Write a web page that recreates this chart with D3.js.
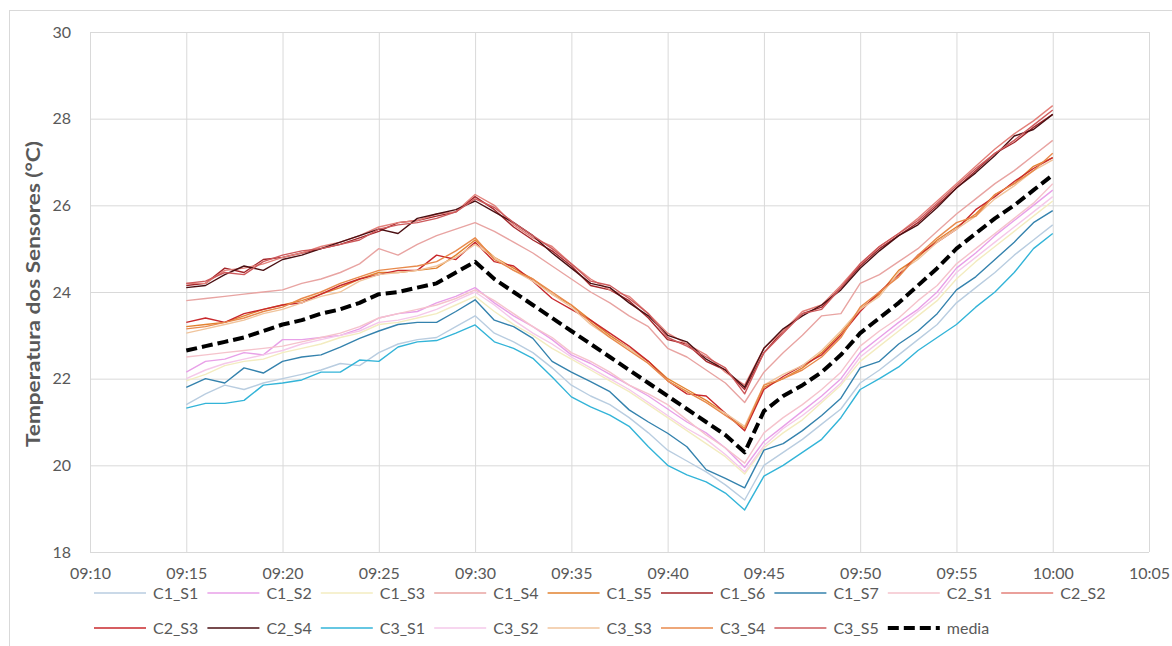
<!DOCTYPE html>
<html>
<head>
<meta charset="utf-8">
<script src="https://cdn.jsdelivr.net/npm/d3@7"></script>
<style>
  body { margin: 0; background: #fff; }
  text { font-family: Lato, "Open Sans", sans-serif; fill: #595959; }
</style>
</head>
<body>
<div id="main"></div>
<script>
// one reading per minute, 09:15 .. 10:00
const startTime = '09:15';
const yTicks = [18, 20, 22, 24, 26, 28, 30];

const C1_S1 = [21.4,21.65,21.85,21.75,21.9,22.0,22.1,22.2,22.35,22.3,22.6,22.8,22.9,22.95,23.2,23.45, 23.05,22.85,22.6,22.25,21.85,21.6,21.4,21.1,20.75,20.35,20.1,19.85,19.55,19.2, 20.0,20.3,20.6,20.95,21.3,21.9,22.2,22.55,22.9,23.25,23.75,24.1,24.45,24.85,25.2,25.55];
const C1_S2 = [22.15,22.4,22.45,22.6,22.55,22.9,22.9,22.95,23.0,23.15,23.4,23.5,23.55,23.75,23.9,24.1, 23.75,23.45,23.2,22.9,22.55,22.35,22.1,21.85,21.6,21.3,21.0,20.75,20.4,19.95, 20.55,20.9,21.25,21.6,22.0,22.6,22.95,23.3,23.6,24.0,24.55,24.9,25.3,25.65,26.0,26.35];
const C1_S3 = [21.95,22.1,22.3,22.4,22.45,22.6,22.7,22.8,22.95,23.05,23.25,23.3,23.4,23.5,23.7,23.9, 23.55,23.25,23.0,22.7,22.45,22.2,21.95,21.7,21.4,21.1,20.8,20.5,20.2,19.8, 20.4,20.75,21.05,21.45,21.85,22.4,22.75,23.1,23.45,23.8,24.3,24.7,25.05,25.4,25.75,26.1];
const C1_S4 = [23.8,23.85,23.9,23.95,24.0,24.05,24.2,24.3,24.45,24.65,25.0,24.85,25.1,25.3,25.45,25.6, 25.4,25.15,24.9,24.6,24.3,24.0,23.75,23.45,23.2,22.7,22.5,22.2,21.9,21.45, 22.15,22.6,23.0,23.45,23.5,24.2,24.4,24.7,25.0,25.4,25.8,26.15,26.5,26.8,27.15,27.5];
const C1_S5 = [23.2,23.25,23.3,23.45,23.6,23.7,23.8,23.95,24.1,24.3,24.45,24.45,24.5,24.55,24.85,25.2, 24.8,24.55,24.3,23.95,23.7,23.35,23.0,22.7,22.4,22.0,21.75,21.5,21.2,20.85, 21.8,22.0,22.25,22.6,23.05,23.6,23.95,24.5,24.8,25.2,25.5,25.8,26.25,26.5,26.9,27.1];
const C1_S6 = [24.15,24.2,24.55,24.45,24.75,24.8,24.9,25.0,25.1,25.25,25.4,25.6,25.65,25.75,25.85,26.2, 25.9,25.5,25.2,24.95,24.6,24.15,24.05,23.8,23.4,22.9,22.8,22.4,22.2,21.75, 22.6,23.1,23.5,23.65,24.1,24.6,25.0,25.3,25.6,26.0,26.4,26.8,27.2,27.45,27.8,28.1];
const C1_S7 = [21.8,22.0,21.9,22.25,22.13,22.4,22.5,22.55,22.73,22.93,23.1,23.25,23.3,23.3,23.55,23.82, 23.35,23.2,22.93,22.4,22.15,21.93,21.7,21.28,21.0,20.74,20.43,19.9,19.7,19.48, 20.35,20.5,20.8,21.15,21.55,22.25,22.4,22.8,23.1,23.5,24.05,24.35,24.75,25.15,25.6,25.88];
const C2_S1 = [22.5,22.55,22.6,22.65,22.7,22.75,22.85,22.95,23.05,23.2,23.4,23.5,23.6,23.7,23.85,24.05, 23.8,23.5,23.2,22.95,22.6,22.4,22.15,21.85,21.65,21.4,21.05,20.7,20.4,20.05, 20.75,21.1,21.4,21.75,22.15,22.75,23.1,23.4,23.8,24.15,24.65,25.0,25.35,25.7,26.05,26.5];
const C2_S2 = [24.2,24.2,24.5,24.55,24.65,24.8,24.9,25.05,25.15,25.3,25.5,25.6,25.65,25.8,25.85,26.25, 26.0,25.55,25.25,25.05,24.65,24.3,24.05,23.9,23.5,23.05,22.8,22.55,22.15,21.85, 22.7,23.1,23.55,23.7,24.15,24.65,25.05,25.35,25.7,26.1,26.5,26.9,27.3,27.65,27.95,28.3];
const C2_S3 = [23.3,23.4,23.3,23.5,23.6,23.7,23.75,23.95,24.15,24.3,24.4,24.5,24.5,24.85,24.75,25.15, 24.7,24.6,24.25,23.85,23.6,23.35,23.05,22.75,22.4,21.95,21.65,21.6,21.2,20.8, 21.75,22.05,22.3,22.55,23.0,23.55,24.0,24.4,24.85,25.15,25.45,25.9,26.2,26.55,26.85,27.1];
const C2_S4 = [24.1,24.15,24.4,24.6,24.5,24.75,24.85,25.0,25.15,25.3,25.45,25.35,25.7,25.8,25.9,26.1, 25.85,25.6,25.3,24.9,24.55,24.2,24.1,23.75,23.45,23.0,22.85,22.45,22.2,21.8, 22.7,23.15,23.45,23.7,24.05,24.55,24.95,25.3,25.55,25.95,26.4,26.75,27.15,27.6,27.75,28.1];
const C3_S1 = [21.32,21.43,21.43,21.5,21.85,21.9,21.97,22.15,22.15,22.43,22.4,22.73,22.85,22.88,23.05,23.24, 22.85,22.7,22.47,22.04,21.58,21.35,21.16,20.9,20.43,20.0,19.78,19.62,19.36,18.97, 19.75,20.0,20.3,20.6,21.1,21.75,22.0,22.27,22.65,22.95,23.25,23.65,24.0,24.45,25.0,25.35];
const C3_S2 = [22.0,22.2,22.35,22.45,22.55,22.65,22.8,22.9,23.0,23.1,23.3,23.35,23.45,23.6,23.8,24.0, 23.7,23.35,23.05,22.8,22.5,22.25,22.0,21.75,21.45,21.15,20.85,20.6,20.25,19.85, 20.45,20.85,21.15,21.5,21.9,22.5,22.85,23.2,23.55,23.9,24.45,24.8,25.15,25.5,25.85,26.2];
const C3_S3 = [23.05,23.15,23.25,23.35,23.5,23.6,23.75,23.9,24.0,24.25,24.4,24.45,24.5,24.6,24.8,25.1, 24.8,24.5,24.25,23.95,23.65,23.25,22.95,22.7,22.35,21.95,21.7,21.45,21.2,20.9, 21.85,22.1,22.3,22.65,23.1,23.6,23.9,24.45,24.75,25.15,25.45,25.75,26.15,26.45,26.8,27.05];
const C3_S4 = [23.15,23.2,23.3,23.4,23.55,23.65,23.85,24.0,24.2,24.35,24.5,24.55,24.6,24.7,24.95,25.25, 24.75,24.5,24.3,24.0,23.7,23.3,22.95,22.65,22.35,21.95,21.7,21.45,21.15,20.85, 21.85,22.0,22.2,22.5,22.95,23.65,24.0,24.35,24.85,25.25,25.6,25.75,26.25,26.5,26.8,27.2];
const C3_S5 = [24.2,24.25,24.45,24.4,24.7,24.85,24.95,25.0,25.1,25.2,25.45,25.55,25.6,25.7,25.85,26.15, 25.95,25.6,25.3,25.0,24.65,24.25,24.15,23.85,23.5,22.95,22.75,22.5,22.25,21.65, 22.6,23.05,23.5,23.6,24.1,24.65,25.05,25.35,25.65,26.05,26.45,26.85,27.2,27.5,27.85,28.2];
const media = [22.65,22.75,22.85,22.95,23.1,23.25,23.35,23.5,23.6,23.75,23.95,24.0,24.1,24.2,24.45,24.7, 24.3,24.0,23.7,23.4,23.1,22.8,22.5,22.2,21.9,21.6,21.3,21.0,20.7,20.3, 21.25,21.6,21.85,22.15,22.55,23.05,23.4,23.75,24.15,24.55,25.0,25.35,25.7,26.0,26.35,26.7];

const seriesNames = ['C1_S1','C1_S2','C1_S3','C1_S4','C1_S5','C1_S6','C1_S7','C2_S1','C2_S2',
  'C2_S3','C2_S4','C3_S1','C3_S2','C3_S3','C3_S4','C3_S5','media'];
const seriesValues = [C1_S1,C1_S2,C1_S3,C1_S4,C1_S5,C1_S6,C1_S7,C2_S1,C2_S2,
  C2_S3,C2_S4,C3_S1,C3_S2,C3_S3,C3_S4,C3_S5,media];
const seriesColors = ['#b9cde0','#e8a0e8','#f3ecc0','#e8a4a2','#e2822f','#a3262a','#3482ad','#f5c3cc','#e3807a',
  '#c8282c','#4a0f12','#33b4d8','#f5c8ea','#f0c49c','#e88a4c','#cd5a5c','#000000'];

// global layout
const svgWidth = 1172, svgHeight = 646;
const plot = { left: 90, right: 1149, top: 32, bottom: 552 };
const parseTime = d3.timeParse('%H:%M');
const fmtTime = d3.timeFormat('%H:%M');

const t0 = parseTime(startTime);
const times = d3.range(C1_S1.length).map((i) => d3.timeMinute.offset(t0, i));

const svg = d3.select('#main')
  .append('svg')
  .attr('width', svgWidth)
  .attr('height', svgHeight);

// chart border
svg.append('rect')
  .attr('x', 9.5).attr('y', 10.5)
  .attr('width', 1175).attr('height', 650)
  .attr('fill', 'none')
  .attr('stroke', '#d9d9d9');

const xScale = d3.scaleTime()
  .domain([parseTime('09:10'), parseTime('10:05')])
  .range([plot.left, plot.right]);

const yScale = d3.scaleLinear()
  .domain([18, 30])
  .range([plot.bottom, plot.top]);

const xTicks = d3.timeMinute.every(5).range(parseTime('09:10'), d3.timeMinute.offset(parseTime('10:05'), 1));

// gridlines
svg.append('g')
  .attr('transform', `translate(${plot.left},0)`)
  .call(d3.axisLeft(yScale).tickValues(yTicks).tickSize(-(plot.right - plot.left)).tickFormat(''))
  .call((g) => g.select('.domain').remove())
  .call((g) => g.selectAll('line').attr('stroke', '#d9d9d9'));

svg.append('g')
  .attr('transform', `translate(0,${plot.bottom})`)
  .call(d3.axisBottom(xScale).tickValues(xTicks).tickSize(-(plot.bottom - plot.top)).tickFormat(''))
  .call((g) => g.select('.domain').remove())
  .call((g) => g.selectAll('line').attr('stroke', '#d9d9d9'));

// tick labels
svg.append('g')
  .attr('transform', `translate(${plot.left},0)`)
  .call(d3.axisLeft(yScale).tickValues(yTicks).tickSize(0).tickPadding(19))
  .call((g) => g.select('.domain').remove())
  .call((g) => g.selectAll('text').style('font-size', '16px').attr('fill', '#595959'));

svg.append('g')
  .attr('transform', `translate(0,${plot.bottom})`)
  .call(d3.axisBottom(xScale).tickValues(xTicks).tickSize(0).tickPadding(16).tickFormat(fmtTime))
  .call((g) => g.select('.domain').remove())
  .call((g) => g.selectAll('text').style('font-size', '16px').attr('fill', '#595959'));

// y title
svg.append('text')
  .attr('transform', `translate(40,${(plot.top + plot.bottom) / 2 + 2}) rotate(-90)`)
  .attr('text-anchor', 'middle')
  .attr('textLength', 306)
  .attr('lengthAdjust', 'spacingAndGlyphs')
  .style('font-size', '19px')
  .style('font-weight', 'bold')
  .text('Temperatura dos Sensores (°C)');

// lines
const line = d3.line()
  .x((d, i) => xScale(times[i]))
  .y((d) => yScale(d));

seriesValues.forEach((vals, k) => {
  const isMedia = seriesNames[k] === 'media';
  svg.append('path')
    .datum(vals)
    .attr('fill', 'none')
    .attr('stroke', seriesColors[k])
    .attr('stroke-width', isMedia ? 4 : 1.4)
    .attr('stroke-dasharray', isMedia ? '11,5' : null)
    .attr('stroke-linejoin', 'round')
    .attr('d', line);
});

// legend
const legendRows = [seriesNames.slice(0, 9), seriesNames.slice(9)];
const legendX = 94, legendStep = 113.4, legendRowY = [593, 628];
legendRows.forEach((row, r) => {
  row.forEach((name, j) => {
    const k = seriesNames.indexOf(name);
    const isMedia = name === 'media';
    const g = svg.append('g')
      .attr('transform', `translate(${legendX + j * legendStep},${legendRowY[r]})`);
    g.append('line')
      .attr('x1', 0).attr('x2', 52)
      .attr('stroke', seriesColors[k])
      .attr('stroke-width', isMedia ? 4 : 1.5)
      .attr('stroke-dasharray', isMedia ? '11,5' : null);
    g.append('text')
      .attr('x', 59)
      .attr('dy', '0.35em')
      .style('font-size', '16px')
      .text(name);
  });
});
</script>
</body>
</html>
